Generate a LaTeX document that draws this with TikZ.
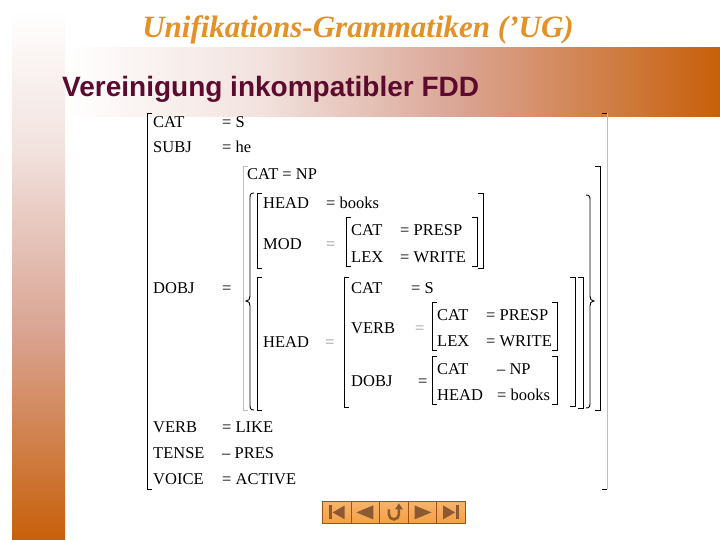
\documentclass[tikz,border=0pt]{standalone}
\usepackage{fontspec}
\setmainfont{Liberation Serif}
\newfontfamily\titlefont{Liberation Sans}
\usetikzlibrary{shadings,calc}
\definecolor{bandorange}{RGB}{200,96,10}
\definecolor{midpink}{RGB}{218,165,148}
\definecolor{palepink}{RGB}{242,226,222}
\definecolor{titlecol}{RGB}{92,10,46}
\definecolor{hdrgold}{RGB}{228,146,40}
\definecolor{brgray}{RGB}{190,190,190}
\definecolor{eqgray}{RGB}{150,150,150}
\definecolor{navfill}{RGB}{245,160,70}
\definecolor{navline}{RGB}{160,80,20}
\definecolor{navicon}{RGB}{140,90,50}
\pgfdeclarehorizontalshading{hband}{100bp}{color(0bp)=(white); color(25bp)=(white); color(40bp)=(palepink); color(55bp)=(midpink); color(75bp)=(bandorange); color(100bp)=(bandorange)}
\pgfdeclareverticalshading{vband}{100bp}{color(0bp)=(bandorange); color(25bp)=(bandorange); color(45bp)=(midpink); color(62bp)=(palepink); color(75bp)=(white); color(100bp)=(white)}
\tikzset{
  avm/.style={anchor=base west, inner sep=0pt, font=\fontsize{16.5}{18}\selectfont},
  brk/.style={line width=0.9pt, black},
  gbrk/.style={line width=0.9pt, brgray},
  navbtn/.style={draw=navline, line width=0.8pt, top color=navfill!80!white, bottom color=navfill},
  navic/.style={fill=navicon, draw=none}
}
\newcommand\fs[4]{\node[avm] (#1) at (#2,#3+6) {#4};}
\newcommand\lbr[4][brk]{\draw[#1] (#2+5,#3) -- (#2,#3) -- (#2,#4) -- (#2+5,#4);}
\newcommand\rbr[4][brk]{\draw[#1] (#2-5,#3) -- (#2,#3) -- (#2,#4) -- (#2-5,#4);}
\begin{document}
\begin{tikzpicture}[x=1pt,y=-1pt]
\useasboundingbox (0,0) rectangle (720,540);
\fill[white] (0,0) rectangle (720,540);
% header band
\shade[shading=hband] (65,48) rectangle (720,117);
% left band
\shade[shading=vband] (12,10) rectangle (65,540);
% header text
\node[font=\fontsize{31}{33}\selectfont\bfseries\itshape, text=hdrgold, inner sep=0pt] (hdr) at (358,30) {Unifikations-Grammatiken ('UG)};
% title
\node[anchor=base west, inner sep=0pt, font=\titlefont\bfseries\fontsize{28}{30}\selectfont, text=titlecol] (title) at (62,97) {Vereinigung inkompatibler FDD};

% ---- AVM text ----
\fs{c1}{153}{122}{CAT}      \fs{v1}{222}{122}{= S}
\fs{c2}{153}{147}{SUBJ}     \fs{v2}{222}{147}{= he}
\fs{np}{247}{174}{CAT = NP}
\fs{h1}{263}{203}{HEAD}     \fs{hv1}{326}{203}{= books}
\fs{m1}{263}{243}{MOD}      \node[avm,text=eqgray] (me) at (326,249) {=};
\fs{mc}{351}{230}{CAT}      \fs{mcv}{400}{230}{= PRESP}
\fs{ml}{351}{256}{LEX}      \fs{mlv}{400}{256}{= WRITE}
\fs{d1}{153}{287}{DOBJ}     \fs{de}{222}{287}{=}
\fs{hc}{351}{287}{CAT}      \fs{hcv}{411}{287}{= S}
\fs{hv}{351}{327}{VERB}     \node[avm,text=eqgray] (hve) at (415,333) {=};
\fs{vc}{437}{314}{CAT}      \fs{vcv}{486}{314}{= PRESP}
\fs{vl}{437}{340}{LEX}      \fs{vlv}{486}{340}{= WRITE}
\fs{h2}{263}{341}{HEAD}     \node[avm,text=eqgray] (h2e) at (325,347) {=};
\fs{hd}{351}{380}{DOBJ}     \fs{hde}{418}{380}{=}
\fs{dc}{437}{368}{CAT}      \fs{dcv}{497}{368}{– NP}
\fs{dh}{437}{394}{HEAD}     \fs{dhv}{497}{394}{= books}
\fs{c3}{153}{426}{VERB}     \fs{v3}{222}{426}{= LIKE}
\fs{c4}{153}{452}{TENSE}    \fs{v4}{222}{452}{– PRES}
\fs{c5}{153}{478}{VOICE}    \fs{v5}{222}{478}{= ACTIVE}

% ---- brackets ----
% outer
\lbr{147}{113}{489}
\draw[gbrk] (607,113) -- (607,489);
\draw[brk] (602,113) -- (607,113) (602,489) -- (607,489);
% CAT=NP structure
\draw[gbrk] (248,166) -- (243,166) -- (243,410) -- (248,410);
\rbr{600}{166}{410}
% braces
\draw[brk] (254,193) .. controls (250,193) and (250,195) .. (250,199) -- (250,296)
  .. controls (250,299) and (249,301) .. (246,301)
  .. controls (249,301) and (250,303) .. (250,306) -- (250,404)
  .. controls (250,408) and (250,410) .. (254,410);
\draw[brk] (586,195) .. controls (590,195) and (590,197) .. (590,201) -- (590,296)
  .. controls (590,299) and (591,301) .. (594,301)
  .. controls (591,301) and (590,303) .. (590,306) -- (590,402)
  .. controls (590,406) and (590,408) .. (586,408);
% HEAD/MOD group
\lbr{257}{193}{268}
\rbr{483}{193}{268}
\lbr{346}{217}{266}
\rbr{477}{217}{266}
% second group
\lbr{257}{277}{410}
\rbr{583}{277}{408}
\lbr{344}{277}{407}
\rbr{575}{277}{406}
\lbr{432}{302}{350}
\rbr{557}{302}{350}
\lbr{432}{356}{404}
\rbr{557}{356}{404}

% ---- navigation buttons ----
\foreach \i/\nm in {0/nb1,1/nb2,2/nb3,3/nb4,4/nb5}{
  \node[navbtn, minimum width=28.6pt, minimum height=22pt, inner sep=0pt, anchor=north west] (\nm) at (322+\i*28.6,501) {};
}
% icons
\fill[navic] ($(nb1.center)+(-8,-7)$) rectangle ($(nb1.center)+(-5,7)$);
\fill[navic] ($(nb1.center)+(-4,0)$) -- ($(nb1.center)+(8,-7)$) -- ($(nb1.center)+(8,7)$) -- cycle;
\fill[navic] ($(nb2.center)+(-9,0)$) -- ($(nb2.center)+(8,-7)$) -- ($(nb2.center)+(8,7)$) -- cycle;
\draw[navicon, line width=2.6pt] ($(nb3.center)+(-5,-3)$) -- ($(nb3.center)+(-5,2)$) arc[start angle=180, end angle=360, radius=5pt] -- ($(nb3.center)+(5,-4)$);
\fill[navic] ($(nb3.center)+(1,-3)$) -- ($(nb3.center)+(5,-9)$) -- ($(nb3.center)+(9,-3)$) -- cycle;
\fill[navic] ($(nb4.center)+(9,0)$) -- ($(nb4.center)+(-8,-7)$) -- ($(nb4.center)+(-8,7)$) -- cycle;
\fill[navic] ($(nb5.center)+(4,0)$) -- ($(nb5.center)+(-8,-7)$) -- ($(nb5.center)+(-8,7)$) -- cycle;
\fill[navic] ($(nb5.center)+(5,-7)$) rectangle ($(nb5.center)+(8,7)$);
\end{tikzpicture}
\end{document}
